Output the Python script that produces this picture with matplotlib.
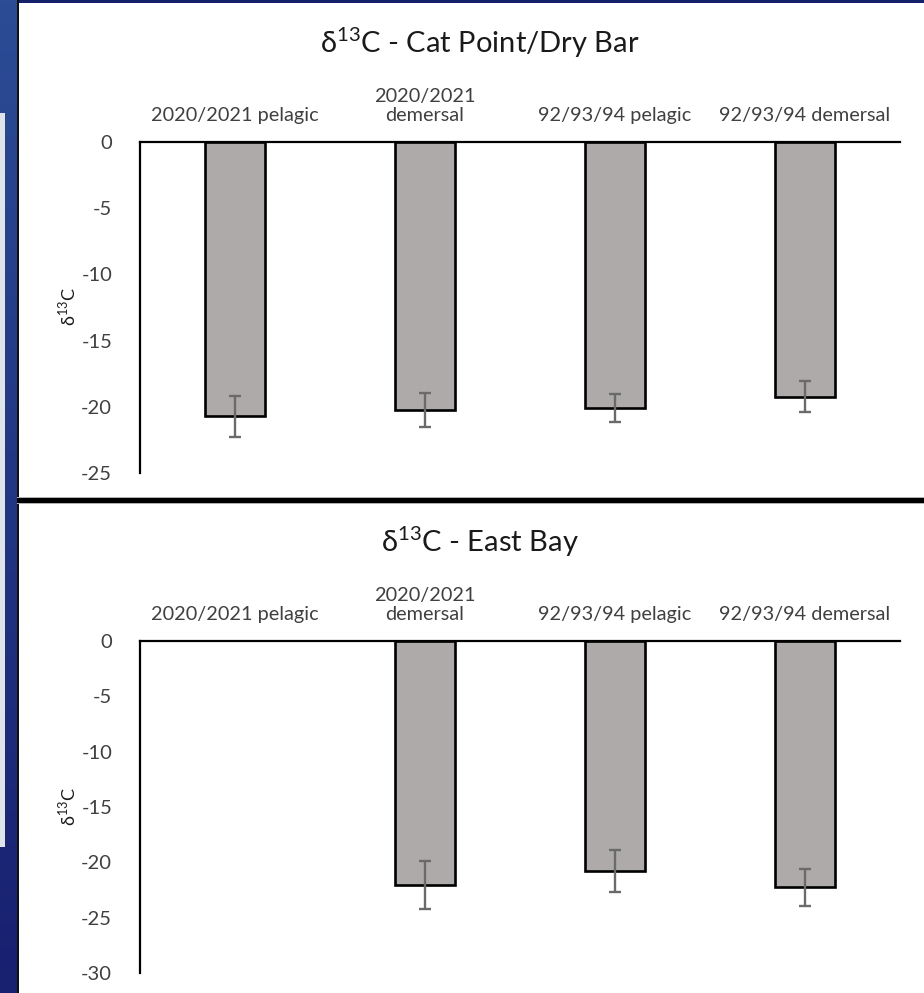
import numpy as np
import matplotlib
matplotlib.use("Agg")
import matplotlib.pyplot as plt
from matplotlib.patches import Rectangle

plt.rcParams['font.family'] = ['Lato', 'DejaVu Sans']
plt.rcParams['mathtext.fontset'] = 'custom'
plt.rcParams['mathtext.rm'] = 'Lato'
plt.rcParams['axes.unicode_minus'] = False

categories = ["2020/2021 pelagic", "2020/2021\ndemersal", "92/93/94 pelagic", "92/93/94 demersal"]

cat_point_mean = [-20.7, -20.25, -20.1, -19.25]
cat_point_err = [1.55, 1.27, 1.05, 1.17]

east_bay_mean = [np.nan, -22.05, -20.8, -22.25]
east_bay_err = [np.nan, 2.15, 1.88, 1.66]

titles = [r"δ$^{13}$C - Cat Point/Dry Bar", r"δ$^{13}$C - East Bay"]
ylims = [(-25, 0), (-30, 0)]
yticks = [[0, -5, -10, -15, -20, -25], [0, -5, -10, -15, -20, -25, -30]]

W, H = 924, 993
fig = plt.figure(figsize=(W / 100, H / 100), dpi=100)
fig.patch.set_facecolor("white")

def px_axes(x0, y0, x1, y1, **kw):
    return fig.add_axes([x0 / W, 1 - y1 / H, (x1 - x0) / W, (y1 - y0) / H], **kw)

# left blue strip (screenshot background)
bg = px_axes(0, 0, 17, H)
grad = np.linspace(0, 1, 256)[:, None, None]
top = np.array([44, 76, 150]) / 255
bot = np.array([24, 32, 112]) / 255
img = top * (1 - grad) + bot * grad
bg.imshow(img, aspect="auto", extent=[0, 1, 0, 1])
bg.add_patch(Rectangle((0, 1 - 847 / H), 5 / 17, (847 - 113) / H, color="#dfe3ea", lw=0))
bg.set_axis_off()

# frame lines
frame = px_axes(0, 0, W, H, zorder=-5)
frame.set_xlim(0, W)
frame.set_ylim(H, 0)
frame.set_axis_off()
frame.add_patch(Rectangle((0, 0), W, 3, color="#14206a", lw=0))
frame.add_patch(Rectangle((16, 0), 2.5, H, color="#111111", lw=0))
frame.add_patch(Rectangle((17, 498), W, 5, color="#000000", lw=0))
frame.add_patch(Rectangle((17, 497), W, 1, color="#b0b0b0", lw=0))
frame.add_patch(Rectangle((17, 503), W, 1, color="#b0b0b0", lw=0))

panels = [
    dict(y0=142, y1=473, mean=cat_point_mean, err=cat_point_err, title_y=43, ylab_y=307),
    dict(y0=641, y1=973, mean=east_bay_mean, err=east_bay_err, title_y=542, ylab_y=807),
]

x = np.arange(len(categories))
for i, p in enumerate(panels):
    ax = px_axes(140, p["y0"], 900, p["y1"])
    ax.set_facecolor("none")
    ax.bar(x, p["mean"], width=0.316, color="#aeaaaa", edgecolor="black", linewidth=1.9, zorder=2)
    ax.errorbar(x, p["mean"], yerr=p["err"], fmt="none", ecolor="#6a6a6a",
                elinewidth=1.7, capsize=4, capthick=1.7, zorder=3)
    ax.set_xlim(-0.5, len(categories) - 0.5)
    ax.set_ylim(*ylims[i])
    ax.set_yticks(yticks[i])
    ax.set_yticklabels([str(t) for t in yticks[i]])
    ax.xaxis.tick_top()
    ax.set_xticks(x)
    ax.set_xticklabels(categories, fontsize=14.3, color="#404040", linespacing=1.15)
    ax.tick_params(axis="x", length=0, pad=13)
    ax.tick_params(axis="y", length=0, pad=20, labelsize=14.5, labelcolor="#404040")
    for s in ["right", "bottom"]:
        ax.spines[s].set_visible(False)
    ax.spines["left"].set_linewidth(1.6)
    ax.spines["top"].set_linewidth(1.6)
    ax.spines["left"].set_color("black")
    ax.spines["top"].set_color("black")
    fig.text(480 / W, 1 - p["title_y"] / H, titles[i], fontsize=21, ha="center", va="center", color="#1a1a1a")
    fig.text(67 / W, 1 - p["ylab_y"] / H, r"δ$^{13}$C", fontsize=13, rotation=90,
             ha="center", va="center", color="#1a1a1a")

fig.savefig("out.png", dpi=100, facecolor=fig.get_facecolor())
